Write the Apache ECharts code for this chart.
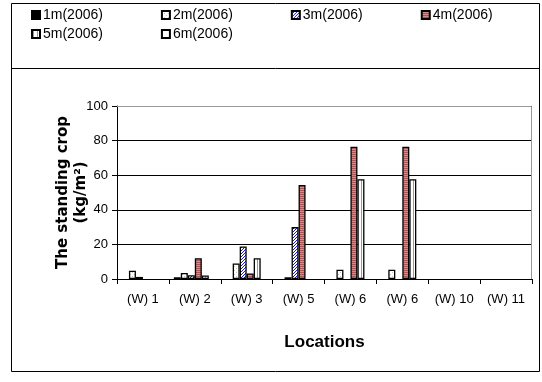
<!DOCTYPE html>
<html>
<head>
<meta charset="utf-8">
<script src="https://cdn.jsdelivr.net/npm/echarts@6/dist/echarts.min.js"></script>
<style>
  html, body { margin: 0; padding: 0; background: #fff; }
  #chart { width: 542px; height: 382px; }
</style>
</head>
<body>
<div id="chart"></div>
<script>
// Standing crop per location, one series per depth class
const locations = ['(W) 1', '(W) 2', '(W) 3', '(W) 5', '(W) 6', '(W) 6', '(W) 10', '(W) 11'];
const seriesNames = ['1m(2006)', '2m(2006)', '3m(2006)', '4m(2006)', '5m(2006)', '6m(2006)'];
const s1m = [0, 1, 0, 0, 0, 0, 0, 0];
const s2m = [4.8, 3.5, 9, 1, 5.4, 5.4, 0, 0];
const s3m = [1.2, 2.2, 18.8, 30, 0, 0, 0, 0];
const s4m = [0, 12, 3.2, 54.3, 76.5, 76.5, 0, 0];
const s5m = [0, 2, 12, 0, 57.7, 57.7, 0, 0];
const s6m = [0, 0, 0, 0, 0, 0, 0, 0];
const yTicks = [0, 20, 40, 60, 80, 100];

// Small repeating fills for the hatched bars
function pattern(size, draw) {
  const c = document.createElement('canvas');
  c.width = size; c.height = size;
  const g = c.getContext('2d');
  draw(g, size);
  return { image: c, repeat: 'repeat' };
}
const fillBlack = '#000000';
const fillDots = pattern(4, (g) => {
  g.fillStyle = '#ffffff'; g.fillRect(0, 0, 4, 4);
  g.fillStyle = '#c4c4b8'; g.fillRect(0, 0, 1, 1); g.fillRect(2, 2, 1, 1);
});
const fillDiag = pattern(3, (g) => {
  g.fillStyle = '#ffffff'; g.fillRect(0, 0, 3, 3);
  g.fillStyle = '#1c1cc4';
  for (let i = 0; i < 3; i++) { g.fillRect(2 - i, i, 1, 1); }
});
const fillStripesH = pattern(4, (g) => {
  g.fillStyle = '#d28c8c'; g.fillRect(0, 0, 4, 4);
  g.fillStyle = '#a85656'; g.fillRect(0, 0, 4, 1); g.fillRect(0, 2, 4, 1);
});
const fillStripesV = pattern(4, (g) => {
  g.fillStyle = '#ffffff'; g.fillRect(0, 0, 4, 4);
  g.fillStyle = '#bf7cc8'; g.fillRect(1, 0, 1, 4);
});
const fillWhite = '#ffffff';

const fills = [fillBlack, fillDots, fillDiag, fillStripesH, fillStripesV, fillWhite];
const values = [s1m, s2m, s3m, s4m, s5m, s6m];

// Zero readings leave the slot empty instead of drawing a flat outline
const series = seriesNames.map((name, i) => ({
  name: name,
  type: 'bar',
  data: values[i].map(v => (v === 0 ? '-' : v)),
  barWidth: 7,
  barGap: '0%',
  itemStyle: { color: fills[i], borderColor: '#000', borderWidth: 1.3 },
  emphasis: { disabled: true },
  animation: false
}));

const legendBase = {
  itemWidth: 8,
  itemHeight: 8,
  itemGap: 58,
  icon: 'rect',
  textStyle: { fontSize: 14, color: '#000', padding: [0, 0, 0, -2] },
  selectedMode: false
};

const chart = echarts.init(document.getElementById('chart'), null, { renderer: 'canvas' });
chart.setOption({
  animation: false,
  backgroundColor: '#ffffff',
  textStyle: { fontFamily: 'Liberation Sans, Arial, sans-serif' },
  legend: [
    Object.assign({ data: seriesNames.slice(0, 4), left: 26, top: 3 }, legendBase),
    Object.assign({ data: seriesNames.slice(4), left: 26, top: 22 }, legendBase)
  ],
  grid: { left: 117, right: 10, top: 106, bottom: 103, containLabel: false },
  xAxis: {
    type: 'category',
    data: locations,
    axisLine: { lineStyle: { color: '#000', width: 1 } },
    axisTick: { show: true, length: 5, lineStyle: { color: '#000' } },
    axisLabel: { color: '#000', fontSize: 13, margin: 14, interval: 0 },
    name: 'Locations',
    nameLocation: 'middle',
    nameGap: 55,
    nameMoveOverlap: false,
    nameTextStyle: { fontSize: 17, fontWeight: 'bold', color: '#000' }
  },
  yAxis: {
    type: 'value',
    min: yTicks[0],
    max: yTicks[yTicks.length - 1],
    interval: 20,
    axisLine: { show: true, lineStyle: { color: '#000', width: 1 } },
    axisTick: { show: true, length: 5, lineStyle: { color: '#000' } },
    axisLabel: { color: '#000', fontSize: 13, margin: 9 },
    splitLine: { show: true, lineStyle: { color: '#000', width: 1 } },
    name: 'The standing crop\n(kg/m²)',
    nameLocation: 'middle',
    nameRotate: 90,
    nameGap: 27,
    nameMoveOverlap: false,
    nameTextStyle: { fontSize: 15, fontWeight: 'bold', color: '#000', lineHeight: 18, fontFamily: 'DejaVu Sans' }
  },
  graphic: [
    // outer frame and legend box
    { type: 'rect', shape: { x: 11.5, y: 3.5, width: 528, height: 368 }, style: { fill: 'none', stroke: '#000', lineWidth: 1 }, silent: true },
    { type: 'line', shape: { x1: 11.5, y1: 68.5, x2: 539.5, y2: 68.5 }, style: { stroke: '#000', lineWidth: 1 }, silent: true },
    // plot area border (top and right)
    { type: 'polyline', shape: { points: [[117, 106.5], [531.5, 106.5], [531.5, 279]] }, style: { fill: 'none', stroke: '#999', lineWidth: 1 }, silent: true, z: 10 }
  ],
  series: series
});
</script>
</body>
</html>
